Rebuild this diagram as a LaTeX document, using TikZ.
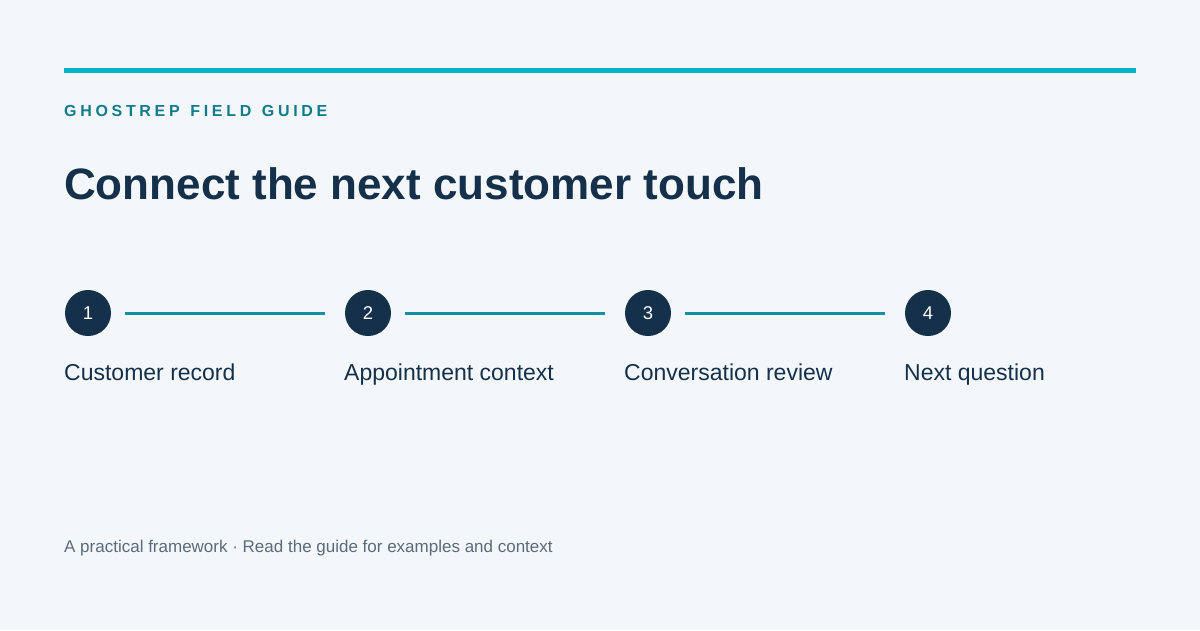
\documentclass[tikz,border=0pt]{standalone}
\usepackage{fontspec}
\setmainfont{Liberation Sans}
\definecolor{bg}{HTML}{F4F7F9}
\definecolor{bar}{HTML}{00B5CC}
\definecolor{kicker}{HTML}{0E7C8B}
\definecolor{ink}{HTML}{14304A}
\definecolor{dot}{HTML}{15304B}
\definecolor{link}{HTML}{1390A1}
\definecolor{foot}{HTML}{5B6B7B}
\begin{document}
\begin{tikzpicture}[x=1pt,y=-1pt,
  stepdot/.style={circle,fill=dot,minimum size=46pt,inner sep=0pt,text=white,font=\fontsize{18.5}{22}\selectfont},
  steplabel/.style={anchor=base west,inner sep=0pt,text=ink,font=\fontsize{23}{27}\selectfont},
  linkline/.style={draw=link,line width=3pt,shorten <=14pt,shorten >=20pt}]
\fill[bg] (0,0) rectangle (1200,630);
\useasboundingbox (0,0) rectangle (1200,630);
\fill[bar] (64,67.5) rectangle (1136,72.5);
\node[anchor=base west,inner sep=0pt,text=kicker,font=\bfseries\fontsize{16}{19}\selectfont\addfontfeature{LetterSpace=23}] (kick) at (64,116) {GHOSTREP\hspace{2.5pt} FIELD\hspace{2.5pt} GUIDE};
\node[anchor=base west,inner sep=0pt,text=ink,font=\bfseries\fontsize{44}{50}\selectfont] (title) at (64,199) {Connect the next customer touch};
\node[stepdot] (c1) at (88,313) {1};
\node[stepdot] (c2) at (368,313) {2};
\node[stepdot] (c3) at (648,313) {3};
\node[stepdot] (c4) at (928,313) {4};
\draw[linkline] (c1.east) -- (c2.west);
\draw[linkline] (c2.east) -- (c3.west);
\draw[linkline] (c3.east) -- (c4.west);
\node[steplabel] (l1) at (64,380) {Customer record};
\node[steplabel] (l2) at (344,380) {Appointment context};
\node[steplabel] (l3) at (624,380) {Conversation review};
\node[steplabel] (l4) at (904,380) {Next question};
\node[anchor=base west,inner sep=0pt,text=foot,font=\fontsize{17}{20}\selectfont] (footer) at (64,552) {A practical framework · Read the guide for examples and context};
\end{tikzpicture}
\end{document}
